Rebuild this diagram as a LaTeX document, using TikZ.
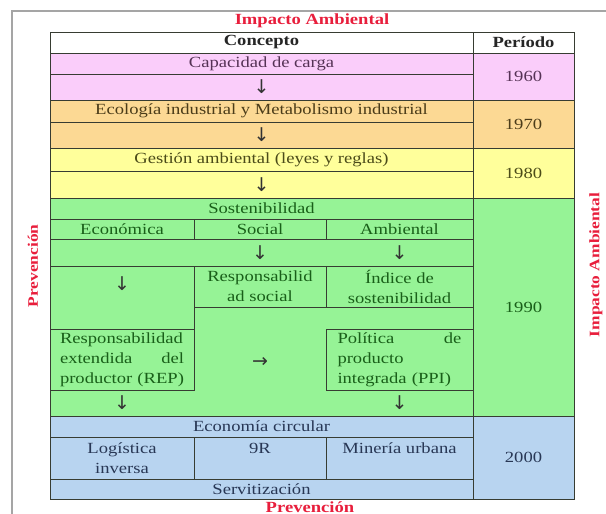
\documentclass[tikz,border=0pt]{standalone}
\usepackage{fontspec}
\setmainfont{Liberation Serif}[FakeStretch=1.2]
\newfontfamily\flechas{DejaVu Sans}
\usetikzlibrary{positioning}
\definecolor{rosa}{RGB}{250,205,250}
\definecolor{naranja}{RGB}{252,217,148}
\definecolor{amarillo}{RGB}{255,255,155}
\definecolor{verde}{RGB}{150,243,150}
\definecolor{azul}{RGB}{184,212,240}
\definecolor{rosaT}{RGB}{85,50,85}
\definecolor{naranjaT}{RGB}{75,60,25}
\definecolor{amarilloT}{RGB}{75,75,25}
\definecolor{verdeT}{RGB}{25,95,25}
\definecolor{azulT}{RGB}{40,55,85}
\definecolor{rojo}{RGB}{232,30,60}
\definecolor{linea}{RGB}{55,60,50}
\definecolor{marco}{RGB}{165,165,165}

\begin{document}
\begin{tikzpicture}[x=1pt,y=-1pt,
    every node/.style={font=\fontsize{15.5}{20}\selectfont},
    celda/.style={draw=linea,line width=1pt,inner sep=0pt,outer sep=0pt,anchor=north west,align=center},
    tam/.style 2 args={minimum width=#1pt,minimum height=#2pt},
    negrita/.style={font=\fontsize{15.5}{20}\selectfont\bfseries,text=black!85},
    rosa sec/.style={celda,fill=rosa,text=rosaT},
    naranja sec/.style={celda,fill=naranja,text=naranjaT},
    amarillo sec/.style={celda,fill=amarillo,text=amarilloT},
    verde sec/.style={celda,fill=verde,text=verdeT},
    azul sec/.style={celda,fill=azul,text=azulT},
    flecha/.style={inner sep=0pt,text=black!80,font=\fontsize{19}{20}\selectfont\flechas},
    caja/.style={text width=124pt,align=left},
    titulo/.style={text=rojo,font=\fontsize{15.5}{20}\selectfont\bfseries},
    lado/.style={text=rojo,font=\fontsize{14.5}{17}\selectfont\bfseries,rotate=90}]
  \useasboundingbox (0,0) rectangle (606,514);
  \draw[marco,line width=1.5pt] (12,520) -- (12,11) -- (610,11);

  \node[titulo] (impacto) at (312,21) {Impacto Ambiental};
  \node[celda,fill=white,negrita,tam={423}{21}] (concepto) at (50,32) {Concepto};
  \node[celda,fill=white,negrita,tam={101}{21}] (periodo) at (473,32) {Período};

  \node[rosa sec,tam={423}{21}] (capacidad) at (50,53) {Capacidad de carga};
  \node[rosa sec,tam={423}{26}] (capbloque) at (50,74) {};
  \node[flecha] (capflecha) at (capbloque.center) {↓};
  \node[rosa sec,tam={101}{47}] (p1960) at (473,53) {1960};

  \node[naranja sec,tam={423}{22}] (ecologia) at (50,100) {Ecología industrial y Metabolismo industrial};
  \node[naranja sec,tam={423}{26}] (ecolbloque) at (50,122) {};
  \node[flecha] (ecolflecha) at (ecolbloque.center) {↓};
  \node[naranja sec,tam={101}{48}] (p1970) at (473,100) {1970};

  \node[amarillo sec,tam={423}{23}] (gestion) at (50,148) {Gestión ambiental (leyes y reglas)};
  \node[amarillo sec,tam={423}{27}] (gesbloque) at (50,171) {};
  \node[flecha] (gesflecha) at (gesbloque.center) {↓};
  \node[amarillo sec,tam={101}{50}] (p1980) at (473,148) {1980};

  \node[verde sec,tam={423}{218}] (verdefondo) at (50,198) {};
  \node[verde sec,tam={101}{218}] (p1990) at (473,198) {1990};
  \node[verde sec,tam={423}{21}] (sostenibilidad) at (50,198) {Sostenibilidad};
  \node[verde sec,tam={144}{20}] (economica) at (50,219) {Económica};
  \node[verde sec,tam={132}{20}] (social) at (194,219) {Social};
  \node[verde sec,tam={147}{20}] (ambiental) at (326,219) {Ambiental};
  \node[flecha] (socflecha) at (260,252.5) {↓};
  \node[flecha] (ambflecha) at (399.5,252.5) {↓};
  \node[verde sec,tam={144}{63}] (ecobloque) at (50,266) {};
  \node[flecha] (ecoflecha) at (122,284) {↓};
  \node[verde sec,tam={132}{41}] (respsocial) at (194,266) {Responsabilid\\ad social};
  \node[verde sec,tam={147}{41}] (indice) at (326,266) {Índice de\\sostenibilidad};
  \node[verde sec,tam={144}{61}] (rep) at (50,329) {};
  \node[caja,text=verdeT] (reptexto) at (rep.center) {Responsabilidad\\extendida\hfill del\\productor (REP)};
  \node[flecha] (medflecha) at (260,362) {→};
  \node[verde sec,tam={147}{61}] (ppi) at (326,329) {};
  \node[caja,text=verdeT] (ppitexto) at (ppi.center) {Política\hfill de\\producto\\integrada (PPI)};
  \node[flecha] (repflecha) at (122,403) {↓};
  \node[flecha] (ppiflecha) at (399.5,403) {↓};

  \node[azul sec,tam={423}{21}] (circular) at (50,416) {Economía circular};
  \node[azul sec,tam={144}{42}] (logistica) at (50,437) {Logística\\inversa};
  \node[azul sec,tam={132}{42}] (nueveR) at (194,437) {9R\\\phantom{9R}};
  \node[azul sec,tam={147}{42}] (mineria) at (326,437) {Minería urbana\\\phantom{M}};
  \node[azul sec,tam={423}{20}] (servitizacion) at (50,479) {Servitización};
  \node[azul sec,tam={101}{83}] (p2000) at (473,416) {2000};

  \node[titulo,anchor=base] (prevencion) at (310,512) {Prevención};
  \node[lado] (prevlado) at (33,266) {Prevención};
  \node[lado] (impactolado) at (596,265) {Impacto Ambiental};
\end{tikzpicture}
\end{document}
